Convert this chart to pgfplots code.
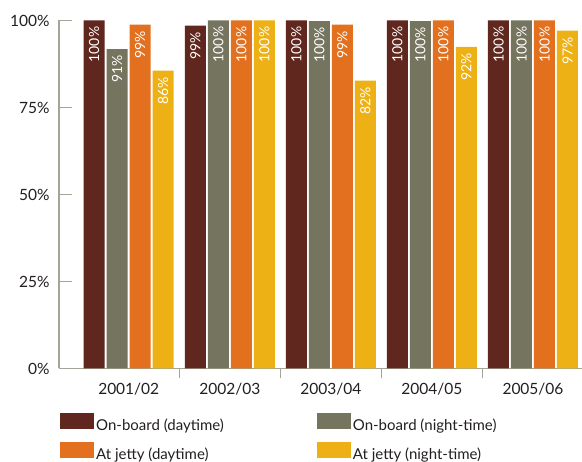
\documentclass[border=0pt]{standalone}
\usepackage{pgfplots}
\pgfplotsset{compat=1.18}
\usepackage{pgfplotstable}
\usepackage{fontspec}
\setmainfont{Lato}
\definecolor{cbrown}{HTML}{5F271D}
\definecolor{cgrey}{HTML}{75745F}
\definecolor{corange}{HTML}{E2701F}
\definecolor{cyellow}{HTML}{EDB115}
\definecolor{axgrey}{HTML}{A4A596}
\definecolor{txt}{HTML}{231F20}

\pgfplotstableread{
x y lab
0 100 100
1 98.5 99
2 100 100
3 100 100
4 100 100
}\tbrown
\pgfplotstableread{
x y lab
0 91.8 91
1 100 100
2 99.8 100
3 99.8 100
4 100 100
}\tgrey
\pgfplotstableread{
x y lab
0 98.8 99
1 100 100
2 98.8 99
3 100 100
4 100 100
}\torange
\pgfplotstableread{
x y lab
0 85.6 86
1 100 100
2 82.7 82
3 92.4 92
4 97.1 97
}\tyellow

\begin{document}
\begin{tikzpicture}
\useasboundingbox (-59pt,-93.5pt) rectangle (523pt,368.5pt);
\begin{axis}[
  at={(0,0)}, anchor=south west,
  scale only axis, width=523pt, height=348pt,
  ybar=2pt, bar width=21pt,
  xmin=-0.69, xmax=4.485, ymin=0, ymax=100,
  clip=false,
  axis lines*=left,
  axis line style={draw=axgrey, line width=1.4pt},
  xtick={0,1,2,3,4},
  xticklabels={2001/02,2002/03,2003/04,2004/05,2005/06},
  minor xtick={0.5,1.5,2.5,3.5},
  major x tick style={draw=none},
  minor x tick style={draw=axgrey, line width=1.4pt},
  xtick align=outside,
  minor tick length=10pt,
  ytick={0,25,50,75,100},
  yticklabels={0\%,25\%,50\%,75\%,100\%},
  ytick align=inside,
  major tick length=13pt,
  ytick style={draw=axgrey, line width=1.4pt},
  tick label style={font=\fontsize{15.5}{17}\selectfont, text=txt},
  xticklabel style={yshift=2pt},
  yticklabel style={xshift=-6pt},
  point meta=explicit symbolic,
  nodes near coords={\pgfplotspointmeta\%},
  nodes near coords style={rotate=90, anchor=east, text=white, font=\fontsize{14}{14}\selectfont, inner xsep=6pt},
  legend columns=2,
  legend cell align=left,
  legend style={at={(0,0)}, anchor=north west, xshift=1pt, yshift=-44pt, draw=none, fill=none, inner sep=0pt,
    font=\fontsize{15}{17}\selectfont, text=txt, row sep=8pt,
    /tikz/every even column/.append style={column sep=91pt}},
  legend image code/.code={\fill[#1] (0pt,-3.5pt) rectangle (34pt,12.5pt);},
]
\addplot[fill=cbrown, draw=none] table[x=x, y=y, meta=lab] {\tbrown};
\addplot[fill=cgrey, draw=none] table[x=x, y=y, meta=lab] {\tgrey};
\addplot[fill=corange, draw=none] table[x=x, y=y, meta=lab] {\torange};
\addplot[fill=cyellow, draw=none] table[x=x, y=y, meta=lab] {\tyellow};
\legend{On-board (daytime), On-board (night-time), At jetty (daytime), At jetty (night-time)}
\end{axis}
\end{tikzpicture}
\end{document}
